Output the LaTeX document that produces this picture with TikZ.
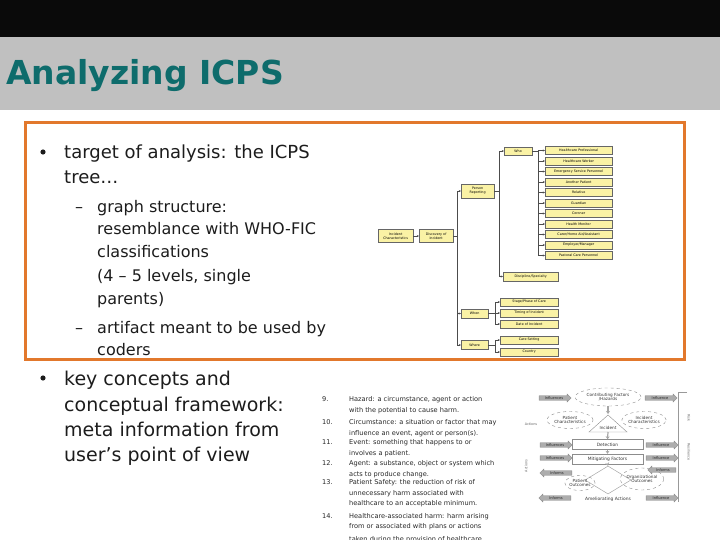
\documentclass[tikz,border=0pt]{standalone}
\usepackage{fontspec}
\setmainfont{DejaVu Sans}
\usetikzlibrary{arrows.meta,shapes.geometric,shapes.arrows,shadows,positioning}
\tikzset{>=stealth}
\definecolor{icpsteal}{RGB}{14,108,108}
\definecolor{hdrgray}{RGB}{192,192,192}
\definecolor{frameorange}{RGB}{226,120,44}
\definecolor{boxyellow}{RGB}{250,242,165}
\definecolor{bodytext}{RGB}{28,28,28}
\tikzset{
  mainline/.style={anchor=base west,inner sep=0pt,text=bodytext,font=\fontsize{18}{25}\selectfont},
  bigline/.style={mainline,font=\fontsize{19}{25}\selectfont},
  subline/.style={anchor=base west,inner sep=0pt,text=bodytext,font=\fontsize{16}{23}\selectfont},
  defline/.style={anchor=base west,inner sep=0pt,text=black!85,font=\fontsize{6.6}{8}\selectfont},
  icpsbox/.style={draw=black!60,fill=boxyellow,line width=.3pt,inner sep=.3pt,align=center,
    anchor=west,font=\fontsize{3.3}{3.9}\selectfont,
    drop shadow={shadow xshift=.7pt,shadow yshift=-.7pt,fill=black!35}},
  treeline/.style={draw=black!70,line width=.5pt,-{Stealth[length=2.2pt,width=2pt]}},
  flowarrow/.style={single arrow,draw=black!45,fill=black!32,minimum height=32pt,minimum width=8pt,
    single arrow head extend=1.5pt,inner sep=.4pt,font=\fontsize{3.6}{4}\selectfont,text=black!85},
  backarrow/.style={flowarrow,shape border rotate=180},
  cloudy/.style={ellipse,draw=black!45,dashed,line width=.4pt,inner sep=0pt,align=center,
    text=black!80,font=\fontsize{4.2}{4.6}\selectfont},
  stagebox/.style={draw=black!45,line width=.4pt,minimum width=71pt,minimum height=10pt,inner sep=0pt,
    text=black!80,font=\fontsize{4.4}{5}\selectfont},
  flowlink/.style={draw=black!35,line width=1.2pt,-{Stealth[length=3pt,width=4pt]}},
  sidenote/.style={inner sep=0pt,text=black!60,font=\fontsize{3.4}{4}\selectfont}
}
\begin{document}
\begin{tikzpicture}[x=1pt,y=-1pt]
\useasboundingbox (0,0) rectangle (720,540);
\clip (0,0) rectangle (720,540);

% header
\fill[black!96] (0,0) rectangle (720,37);
\fill[hdrgray] (0,37) rectangle (720,110);
\node[anchor=base west,inner sep=0pt,text=icpsteal,font=\fontsize{33}{36}\selectfont\bfseries]
  (title) at (6,85) {Analyzing ICPS};

% boxed part
\draw[frameorange,line width=3pt] (25.5,122.5) rectangle (684,359.5);
\fill[bodytext] (43,152) circle (2.6pt);
\node[mainline] (t1a) at (64,159) {target of analysis: the ICPS};
\node[mainline] (t1b) at (64,184) {tree…};
\node[subline] (dash1) at (75,212) {–};
\foreach \t/\y [count=\k] in {graph structure:/212,resemblance with WHO-FIC/235,
    classifications/258,{(4 – 5 levels, single}/281,parents)/304}
  \node[subline] (s1-\k) at (97,\y) {\t};
\node[subline] (dash2) at (75,333) {–};
\node[subline] (s2-1) at (97,333) {artifact meant to be used by};
\node[subline] (s2-2) at (97,355) {coders};

% second bullet
\fill[bodytext] (43,378) circle (2.6pt);
\foreach \t/\y [count=\k] in {key concepts and/385,conceptual framework:/411,
    meta information from/436,user’s point of view/461}
  \node[bigline] (t2-\k) at (64,\y) {\t};

% ICPS tree
\node[icpsbox,minimum width=35pt,minimum height=13pt] (inc) at (378,236) {Incident\\Characteristics};
\node[icpsbox,minimum width=34pt,minimum height=13pt] (disc) at (419,236) {Discovery of\\incident};
\node[icpsbox,minimum width=33pt,minimum height=14pt] (person) at (461,191) {Person\\Reporting};
\node[icpsbox,minimum width=27pt,minimum height=9pt] (when) at (461,313.5) {When};
\node[icpsbox,minimum width=27pt,minimum height=9pt] (where) at (461,345) {Where};
\node[icpsbox,minimum width=28pt,minimum height=8pt] (who) at (504,151) {Who};
\node[icpsbox,minimum width=55pt,minimum height=9pt] (discip) at (503,276.5) {Discipline/Specialty};
\draw[treeline] (inc.east) -- (disc.west);
\foreach \c in {person,when,where}
  \draw[treeline] (disc.east) -- ++(4,0) |- (\c.west);
\foreach \c in {who,discip}
  \draw[treeline] (person.east) -- ++(5,0) |- (\c.west);
\foreach \t [count=\k from 0] in {Healthcare Professional,Healthcare Worker,
    Emergency Service Personnel,Another Patient,Relative,Guardian,Coroner,
    Health Monitor,Carer/Home Aid/Assistant,Employer/Manager,Pastoral Care Personnel}
  \node[icpsbox,minimum width=67pt,minimum height=8pt] (w\k) at (545,{150.5+10.5*\k}) {\t};
\foreach \k in {0,...,10}
  \draw[treeline] (who.east) -- ++(6,0) |- (w\k.west);
\foreach \t/\y [count=\k] in {{Stage/Phase of Care}/302,Timing of Incident/313,Date of Incident/324}
  \node[icpsbox,minimum width=58pt,minimum height=8pt] (wn\k) at (500,\y) {\t};
\foreach \k in {1,2,3}
  \draw[treeline] (when.east) -- ++(7,0) |- (wn\k.west);
\foreach \t/\y [count=\k] in {Care Setting/340,Country/352}
  \node[icpsbox,minimum width=58pt,minimum height=8pt] (wr\k) at (500,\y) {\t};
\foreach \k in {1,2}
  \draw[treeline] (where.east) -- ++(7,0) |- (wr\k.west);

% key concepts
\foreach \n/\y in {9./401,10./424,11./444,12./465,13./484,14./518}
  \node[defline] (num\y) at (322,\y) {\n};
\foreach \t/\y in {Hazard: a circumstance{,} agent or action/401,
    with the potential to cause harm./412,
    Circumstance: a situation or factor that may/424,
    influence an event{,} agent or person(s)./435,
    Event: something that happens to or/444,
    involves a patient./455,
    Agent: a substance{,} object or system which/465,
    acts to produce change./476,
    Patient Safety: the reduction of risk of/484,
    unnecessary harm associated with/495,
    healthcare to an acceptable minimum./505,
    Healthcare-associated harm: harm arising/518,
    from or associated with plans or actions/528,
    taken during the provision of healthcare/541}
  \node[defline] (def\y) at (349,\y) {\t};

% conceptual framework
\node[cloudy,minimum width=66pt,minimum height=18pt] (contrib) at (608,397) {Contributing Factors\\/Hazards};
\node[cloudy,minimum width=46pt,minimum height=17pt] (patchar) at (570,420) {Patient\\Characteristics};
\node[cloudy,minimum width=44pt,minimum height=17pt] (incchar) at (644,420) {Incident\\Characteristics};
\draw[black!45,line width=.4pt] (608,415) -- (627,432) -- (589,432) -- cycle;
\node[sidenote,text=black!80,font=\fontsize{4.2}{5}\selectfont] (incmark) at (608,427.5) {Incident};
\node[stagebox] (detect) at (607.5,444.5) {Detection};
\node[stagebox] (mitig) at (607.5,459) {Mitigating Factors};
\node[diamond,draw=black!35,line width=.5pt,minimum width=46pt,minimum height=28pt,inner sep=0pt] (outc) at (608,480) {};
\node[cloudy,minimum width=28pt,minimum height=15pt] (patout) at (580,483) {Patient\\Outcomes};
\node[cloudy,minimum width=28pt,minimum height=22pt] (orgout) at (642,479) {Organizational\\Outcomes};
\node[sidenote,text=black!80,font=\fontsize{4.4}{5}\selectfont] (amel) at (608,499) {Ameliorating Actions};
\draw[flowlink] (contrib.south) -- (608,414);
\draw[flowlink] (608,432) -- (detect.north);
\draw[flowlink] (detect.south) -- (mitig.north);
\draw[flowlink] (mitig.south) -- (outc.north);

\node[flowarrow] (inf1) at (554,398) {Influences};
\node[flowarrow] (inf2) at (555,445) {Influences};
\node[flowarrow] (inf3) at (555,458) {Influences};
\node[backarrow] (infm1) at (557,473) {Informs};
\node[backarrow] (infm2) at (556,498) {Informs};
\node[flowarrow] (out1) at (660,398) {Influence};
\node[flowarrow] (out2) at (661,445) {Influence};
\node[flowarrow] (out3) at (661,458) {Influence};
\node[backarrow,minimum height=28pt] (out4) at (663,470) {Informs};
\node[flowarrow] (out5) at (661,498) {Influence};

\draw[black!40,line width=.5pt] (687,392) -- (678,392) -- (678,502);
\node[sidenote] (ln1) at (531,424) {Actions};
\node[sidenote,rotate=90] (ln2) at (526,466) {Actions};
\node[sidenote,rotate=-90] (rn1) at (689,418) {Risk};
\node[sidenote,rotate=-90] (rn2) at (689,452) {Resilience};
\end{tikzpicture}
\end{document}
